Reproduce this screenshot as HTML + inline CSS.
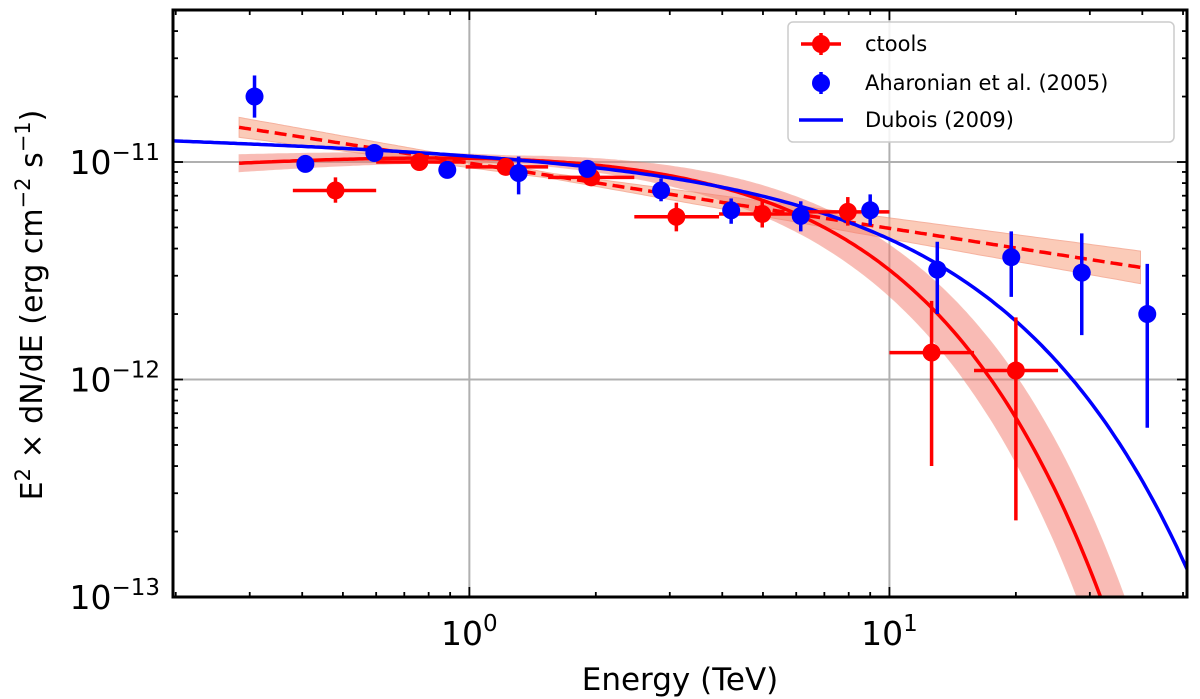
<!DOCTYPE html>
<html><head><meta charset="utf-8"><style>
html,body{margin:0;background:#fff;width:1200px;height:699px;overflow:hidden;position:relative;}
svg{display:block;font-family:"DejaVu Sans","Liberation Sans",sans-serif;}
</style></head><body>
<svg id="chart" width="1200" height="699"></svg>
<script>
const ctoolsE=[0.48,0.76,1.22,1.95,3.11,4.98,7.96,12.6,20.0];
const ctoolsF=[7.4e-12,1.0e-11,9.5e-12,8.5e-12,5.6e-12,5.77e-12,5.9e-12,1.33e-12,1.1e-12];
const ctoolsFlo=[6.5e-12,9.4e-12,8.9e-12,8.0e-12,4.8e-12,5.0e-12,5.1e-12,4.0e-13,2.25e-13];
const ctoolsFhi=[8.5e-12,1.06e-11,1.01e-11,9.1e-12,6.5e-12,6.7e-12,6.9e-12,2.3e-12,1.93e-12];
const ctoolsElo=[0.38,0.60,0.98,1.54,2.47,3.93,6.29,10.0,15.9];
const ctoolsEhi=[0.60,0.98,1.54,2.47,3.93,6.29,10.0,15.9,25.2];
const ahaE=[0.308,0.407,0.594,0.886,1.31,1.91,2.86,4.20,6.15,9.0,13.0,19.5,28.7,41.1];
const ahaF=[2.0e-11,9.8e-12,1.1e-11,9.2e-12,8.9e-12,9.3e-12,7.4e-12,6.0e-12,5.65e-12,6.0e-12,3.2e-12,3.65e-12,3.1e-12,2.0e-12];
const ahaFlo=[1.6e-11,9.3e-12,1.05e-11,8.8e-12,7.1e-12,8.6e-12,6.6e-12,5.2e-12,4.8e-12,5.1e-12,2.0e-12,2.4e-12,1.6e-12,6.0e-13];
const ahaFhi=[2.5e-11,1.05e-11,1.15e-11,9.6e-12,1.06e-11,1.0e-11,8.4e-12,6.8e-12,6.6e-12,7.1e-12,4.3e-12,4.8e-12,4.7e-12,3.4e-12];
const plParams=[-11.005,-0.30];
const ecplParams=[-10.911,0.135,6.03];
const duboisParams=[-10.937,-0.0586,12.1];
const xTicks=[1,10];
const yTicks=[1e-13,1e-12,1e-11];

const svg=document.getElementById('chart');
const NS='http://www.w3.org/2000/svg';
const L=173,R=1187,T=10,B=597;
const xmin=Math.log10(0.197),xmax=Math.log10(51.1),ymin=-13,ymax=Math.log10(5.0e-11);
const X=e=>L+(Math.log10(e)-xmin)/(xmax-xmin)*(R-L);
const Y=f=>B-(Math.log10(f)-ymin)/(ymax-ymin)*(B-T);
function mk(tag,at,parent){const el=document.createElementNS(NS,tag);for(const k in at)el.setAttribute(k,at[k]);(parent||svg).appendChild(el);return el;}
const defs=mk('defs',{});const cp=mk('clipPath',{id:'clip'},defs);mk('rect',{x:L,y:T,width:R-L,height:B-T},cp);
xTicks.forEach(v=>{const g=mk('line',{x1:X(v),x2:X(v),y1:T,y2:B,stroke:'#b0b0b0','stroke-width':2});

});
yTicks.forEach(v=>{const g=mk('line',{x1:L,x2:R,y1:Y(v),y2:Y(v),stroke:'#b0b0b0','stroke-width':2});

});
const plot=mk('g',{'clip-path':'url(#clip)'});


const pl=e=>plParams[0]+plParams[1]*Math.log10(e);
const ecpl=(p,e)=>p[0]+p[1]*Math.log10(e)-e/p[2]/Math.LN10;
function path(fn,e0,e1){let d='';for(let i=0;i<=300;i++){const e=Math.pow(10,Math.log10(e0)+i/300*(Math.log10(e1)-Math.log10(e0)));d+=(i?'L':'M')+X(e).toFixed(1)+','+Y(Math.pow(10,fn(e))).toFixed(1);}return d;}
function band(lo,hi,e0,e1){let up=[],dn=[];for(let i=0;i<=300;i++){const e=Math.pow(10,Math.log10(e0)+i/300*(Math.log10(e1)-Math.log10(e0)));up.push(X(e).toFixed(1)+','+Y(Math.pow(10,hi(e))).toFixed(1));dn.push(X(e).toFixed(1)+','+Y(Math.pow(10,lo(e))).toFixed(1));}return 'M'+up.join('L')+'L'+dn.reverse().join('L')+'Z';}
const e0=0.283,e1=39.6;
const wpl=e=>0.012+0.045*Math.abs(Math.log10(e)-0.2);
let b1=mk('path',{d:band(e=>pl(e)-wpl(e),e=>pl(e)+wpl(e),e0,e1),fill:'#f9a98a',opacity:0.6,stroke:'#f08060','stroke-width':1},plot);


const wec=e=>0.008+0.045*Math.abs(Math.log10(e)-0.1);
const ecHi=e=>ecpl([ecplParams[0],ecplParams[1],ecplParams[2]*1.1],e)+wec(e);
const ecLo=e=>ecpl([ecplParams[0],ecplParams[1],ecplParams[2]/1.1],e)-wec(e);
let b2=mk('path',{d:band(ecLo,ecHi,e0,e1),fill:'#f47a6e',opacity:0.5,stroke:'#f08070','stroke-width':1},plot);


let l1=mk('path',{d:path(pl,e0,e1),fill:'none',stroke:'#ff0000','stroke-width':3.5,'stroke-dasharray':'12,6'},plot);


let l2=mk('path',{d:path(e=>ecpl(ecplParams,e),e0,e1),fill:'none',stroke:'#ff0000','stroke-width':3.5},plot);


let l3=mk('path',{d:path(e=>ecpl(duboisParams,e),0.197,51.1),fill:'none',stroke:'#0000ff','stroke-width':3.5},plot);


ctoolsE.forEach((e,i)=>{const g=mk('g',{},plot);


mk('line',{x1:X(ctoolsElo[i]),x2:X(ctoolsEhi[i]),y1:Y(ctoolsF[i]),y2:Y(ctoolsF[i]),stroke:'#ff0000','stroke-width':3.5},g);
mk('line',{x1:X(e),x2:X(e),y1:Y(ctoolsFlo[i]),y2:Y(ctoolsFhi[i]),stroke:'#ff0000','stroke-width':3.5},g);
mk('circle',{cx:X(e),cy:Y(ctoolsF[i]),r:9,fill:'#ff0000'},g);});
ahaE.forEach((e,i)=>{const g=mk('g',{},plot);


mk('line',{x1:X(e),x2:X(e),y1:Y(ahaFlo[i]),y2:Y(ahaFhi[i]),stroke:'#0000ff','stroke-width':3.5},g);
mk('circle',{cx:X(e),cy:Y(ahaF[i]),r:9,fill:'#0000ff'},g);});
for(let k=-1;k<=1;k++)for(let m=1;m<10;m++){const v=m*Math.pow(10,k);if(v<0.197||v>51.1)continue;const len=m==1?10:5;const x=X(v);
mk('line',{x1:x,x2:x,y1:B,y2:B-len,stroke:'#000','stroke-width':1.8});mk('line',{x1:x,x2:x,y1:T,y2:T+len,stroke:'#000','stroke-width':1.8});}
for(let k=-13;k<=-11;k++)for(let m=1;m<10;m++){const v=m*Math.pow(10,k);if(Math.log10(v)>ymax+1e-9)continue;const len=m==1?10:5;const y=Y(v);
mk('line',{x1:L,x2:L+len,y1:y,y2:y,stroke:'#000','stroke-width':1.8});mk('line',{x1:R,x2:R-len,y1:y,y2:y,stroke:'#000','stroke-width':1.8});}
let fr=mk('rect',{x:L,y:T,width:R-L,height:B-T,fill:'none',stroke:'#000','stroke-width':3});


xTicks.forEach(v=>{const t=mk('text',{x:X(v),y:645,'font-size':33,'text-anchor':'middle'});t.innerHTML='10<tspan dy="-14" font-size="23">'+Math.round(Math.log10(v))+'</tspan>';

});
yTicks.forEach(v=>{const t=mk('text',{x:160,y:Y(v)+12,'font-size':33,'text-anchor':'end'});t.innerHTML='10<tspan dy="-14" font-size="23">−'+(-Math.round(Math.log10(v)))+'</tspan>';

});
</script>
<svg style="position:absolute;left:0;top:0" width="1200" height="699">
<text x="680" y="690" font-size="31" text-anchor="middle" font-family="DejaVu Sans, Liberation Sans, sans-serif">Energy (TeV)</text>
<text transform="translate(42,305) rotate(-90)" font-size="30" text-anchor="middle" font-family="DejaVu Sans, Liberation Sans, sans-serif">E<tspan dy="-12" font-size="21">2</tspan><tspan dy="12"> × dN/dE (erg cm</tspan><tspan dy="-12" font-size="21">−2</tspan><tspan dy="12"> s</tspan><tspan dy="-12" font-size="21">−1</tspan><tspan dy="12">)</tspan></text>
<g font-family="DejaVu Sans, Liberation Sans, sans-serif" font-size="21">
<rect x="788" y="22" width="386" height="120" rx="5" fill="#fff" fill-opacity="0.85" stroke="#ccc" stroke-width="1.5"/>
<g><line x1="801" x2="841" y1="44" y2="44" stroke="#f00" stroke-width="3.5"/><line x1="821" x2="821" y1="33" y2="55" stroke="#f00" stroke-width="3.5"/><circle cx="821" cy="44" r="9" fill="#f00"/><text x="865" y="51">ctools</text></g>
<g><line x1="821" x2="821" y1="72" y2="94" stroke="#00f" stroke-width="3.5"/><circle cx="821" cy="83" r="9" fill="#00f"/><text x="865" y="90">Aharonian et al. (2005)</text></g>
<g><line x1="799" x2="843" y1="120" y2="120" stroke="#00f" stroke-width="3.5"/><text x="865" y="127">Dubois (2009)</text></g>
</g>
</svg>
</body></html>
